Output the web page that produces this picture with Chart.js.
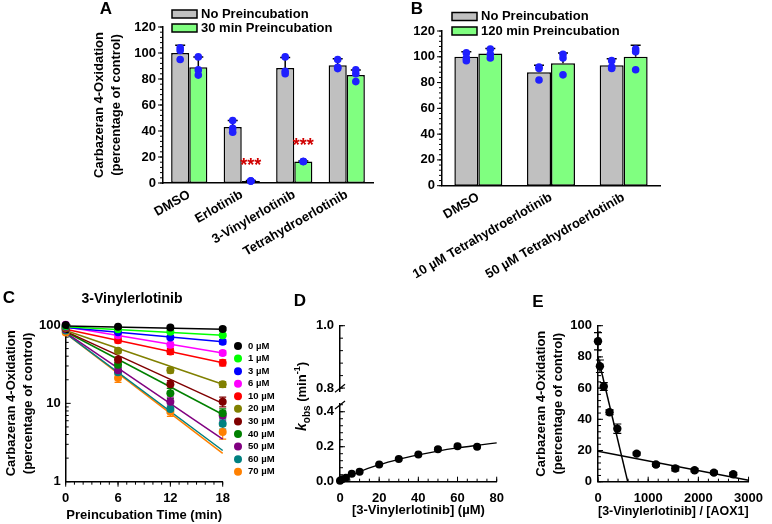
<!DOCTYPE html>
<html>
<head>
<meta charset="utf-8">
<script src="https://cdn.jsdelivr.net/npm/chart.js@4.4.0/dist/chart.umd.min.js"></script>
<style>
  body { margin: 0; background: #fff; }
  #wrap { position: relative; width: 772px; height: 524px; overflow: hidden; background: #fff; }
  canvas { position: absolute; }
</style>
</head>
<body>
<div id="wrap">
  <canvas id="cA" width="390" height="280" style="left:0;top:0"></canvas>
  <canvas id="cB" width="422" height="300" style="left:350px;top:0"></canvas>
  <canvas id="cC" width="290" height="244" style="left:0;top:280px"></canvas>
  <canvas id="cDlow" width="250" height="244" style="left:270px;top:280px"></canvas>
  <canvas id="cDtop" width="250" height="125" style="left:270px;top:280px"></canvas>
  <canvas id="cE" width="262" height="244" style="left:510px;top:280px"></canvas>
</div>
<script>
// ---- panel A data
var catsA = ["DMSO", "Erlotinib", "3-Vinylerlotinib", "Tetrahydroerlotinib"];
var noPreA = [100, 43, 88.5, 90.5];
var preA = [89, 1.5, 16.5, 83];
var noPreErrA = [6, 5, 8, 5];
var preErrA = [8, 0.5, 0.5, 4];
var noPreDotsA = [[104, 102, 95], [48, 42, 39], [97, 86, 84], [95, 89, 88]];
var preDotsA = [[97, 87, 83], [1.5, 1.5, 1.5], [16.5, 16.5, 16.5], [87, 84, 78]];
var starsA = [null, 17, 32, null];
var yTicksAB = [0, 20, 40, 60, 80, 100, 120];

// ---- panel B data
var catsB = ["DMSO", "10 µM Tetrahydroerlotinib", "50 µM Tetrahydroerlotinib"];
var noPreB = [100, 88, 93.5];
var preB = [102.5, 95, 100];
var noPreErrB = [4, 5.5, 5];
var preErrB = [4, 8, 9];
var noPreDotsB = [[103, 99, 97], [92, 91, 82], [97, 92, 91]];
var preDotsB = [[106, 102, 99], [102, 99, 86], [106, 104, 90]];

// ---- panel C data (percent remaining vs preincubation time)
var timesC = [0, 6, 12, 18];
var concC = ["0 µM", "1 µM", "3 µM", "6 µM", "10 µM", "20 µM", "30 µM", "40 µM", "50 µM", "60 µM", "70 µM"];
var remainC = [
  [100, 95, 93, 89],
  [97, 88, 82, 74],
  [96, 81, 69.5, 61],
  [101, 74, 56, 44],
  [95, 64, 46, 33],
  [92, 47, 26.5, 17.5],
  [90, 36, 17.5, 10.5],
  [92, 31, 13.5, 7.5],
  [88, 26.5, 10.5, 7],
  [85, 25, 8.5, 5.5],
  [80, 21, 7.8, 4.3]
];
var errC = [
  [0, 2, 4, 4], [0, 2, 3, 3], [0, 2, 4, 4], [0, 3, 4, 3], [0, 5, 4, 3],
  [0, 3, 2, 1.5], [0, 3, 2, 1.5], [0, 2, 2, 1], [0, 2, 1.5, 1], [0, 2, 1, 0.8], [0, 2.5, 1, 0.8]
];
var fitStartC = [97, 95, 93, 95, 88, 85, 83, 82, 80, 78, 78];
var fitEndC = [88, 74, 61, 44, 33, 17.5, 10, 7.2, 3.5, 2.5, 2.3];
var xTicksC = [0, 6, 12, 18];
var yTicksC = [1, 10, 100];

// ---- panel D data
var concD = [0, 1, 3, 6, 10, 20, 30, 40, 50, 60, 70];
var kobsD = [0.005, 0.014, 0.023, 0.045, 0.057, 0.098, 0.13, 0.155, 0.185, 0.203, 0.2];
var kobsErrD = [0.003, 0.003, 0.004, 0.004, 0.004, 0.005, 0.006, 0.006, 0.008, 0.008, 0.006];
var fitXD = [0, 5, 10, 20, 30, 40, 50, 60, 70, 80];
var fitYD = [0.0, 0.031, 0.057, 0.097, 0.128, 0.153, 0.175, 0.193, 0.208, 0.222];
var xTicksD = [0, 20, 40, 60, 80];
var yTicksDlow = [0, 0.2, 0.4];
var yTicksDtop = [0.8, 1.0];

// ---- panel E data
var ratioE = [0, 38, 115, 230, 385, 770, 1155, 1540, 1925, 2310, 2695];
var remainE = [90, 74, 61, 44.5, 34, 18, 11, 8.5, 7.3, 5.8, 4.8];
var remainErrE = [5.5, 4, 2.5, 1.5, 3, 1, 1, 1.5, 1, 1, 1];
var steepX = [0, 592], steepY = [80, 0];
var flatX = [0, 3000], flatY = [19.5, 1];
var xTicksE = [0, 1000, 2000, 3000];
var yTicksE = [0, 20, 40, 60, 80, 100];

var FONT = '"Liberation Sans", Arial, Helvetica, sans-serif';
var GRAY = '#c0c0c0', GREEN = '#80ff80', DOT = '#1f1fff';
var colorsC = ['#000000', '#00ff00', '#0000ff', '#ff00ff', '#ff0000', '#808000', '#800000', '#008000', '#800080', '#008080', '#ff8000'];
Chart.defaults.font.family = FONT;
Chart.defaults.color = '#000';

function fnt(size, lh) { return {family: FONT, size: size, weight: 'bold', lineHeight: lh || 1.2}; }
function fixed(vals) { return function (s) { s.ticks = vals.map(function (v) { return {value: v}; }); }; }

function axisTicks(chart, id, minor, dir) {
  var s = chart.scales[id], ctx = chart.ctx, a = chart.chartArea;
  var marks = s.ticks.map(function (t) { return [t.value, 5]; });
  if (minor === 'log') {
    for (var d = s.min; d < s.max; d *= 10) for (var k = 2; k < 10; k++) marks.push([k * d, 3]);
  } else if (minor) {
    for (var v = Math.ceil(s.min / minor - 1e-9) * minor; v <= s.max + 1e-9; v += minor) marks.push([v, 3]);
  }
  var sg = dir === 'out' ? 1 : -1;
  ctx.save();
  ctx.strokeStyle = '#000';
  ctx.lineWidth = 1;
  marks.forEach(function (m) {
    var p = s.getPixelForValue(m[0]);
    ctx.beginPath();
    if (s.isHorizontal()) { ctx.moveTo(p, a.bottom); ctx.lineTo(p, a.bottom + sg * m[1]); }
    else { ctx.moveTo(a.left, p); ctx.lineTo(a.left - sg * m[1], p); }
    ctx.stroke();
  });
  ctx.restore();
}

function errLine(ctx, x, y1, y2, w, bothCaps) {
  ctx.beginPath();
  ctx.moveTo(x, y1); ctx.lineTo(x, y2);
  ctx.moveTo(x - w, y2); ctx.lineTo(x + w, y2);
  if (bothCaps) { ctx.moveTo(x - w, y1); ctx.lineTo(x + w, y1); }
  ctx.stroke();
}

function label(ctx, txt, x, y, size, align, color) {
  ctx.save();
  ctx.font = 'bold ' + size + 'px ' + FONT;
  ctx.fillStyle = color || '#000';
  ctx.textAlign = align || 'center';
  ctx.textBaseline = 'middle';
  ctx.fillText(txt, x, y);
  ctx.restore();
}

function barLegend(ctx, x, items) {
  items.forEach(function (it) {
    ctx.save();
    ctx.fillStyle = it.color;
    ctx.strokeStyle = '#000';
    ctx.lineWidth = 1.5;
    ctx.fillRect(x, it.y - 4, 25, 8);
    ctx.strokeRect(x, it.y - 4, 25, 8);
    ctx.restore();
    label(ctx, it.text, x + 29, it.y, 13, 'left');
  });
}

// bar panel decorations: error bars, individual dots, legend, stars
function barDecor(errs, dots, opts) {
  return {
    id: 'barDecor',
    afterDatasetsDraw: function (chart) {
      var ctx = chart.ctx, y = chart.scales.y;
      ctx.save();
      ctx.strokeStyle = '#000';
      ctx.lineWidth = 1.5;
      chart.data.datasets.forEach(function (ds, di) {
        var meta = chart.getDatasetMeta(di);
        meta.data.forEach(function (bar, i) {
          errLine(ctx, bar.x, y.getPixelForValue(ds.data[i]), y.getPixelForValue(ds.data[i] + errs[di][i]), 5);
        });
      });
      ctx.fillStyle = DOT;
      chart.data.datasets.forEach(function (ds, di) {
        var meta = chart.getDatasetMeta(di);
        meta.data.forEach(function (bar, i) {
          dots[di][i].forEach(function (v) {
            ctx.beginPath();
            ctx.arc(bar.x, y.getPixelForValue(v), 3.8, 0, Math.PI * 2);
            ctx.fill();
          });
        });
      });
      ctx.restore();
      if (opts.stars) {
        var meta1 = chart.getDatasetMeta(1);
        opts.stars.forEach(function (v, i) {
          if (v === null) return;
          ctx.save();
          ctx.font = 'bold 18px ' + FONT;
          ctx.fillStyle = '#d00000';
          ctx.textAlign = 'center';
          ctx.textBaseline = 'alphabetic';
          ctx.fillText('***', meta1.data[i].x, y.getPixelForValue(v) + 10);
          ctx.restore();
        });
      }
    },
    afterDraw: function (chart) {
      var ctx = chart.ctx, a = chart.chartArea;
      axisTicks(chart, 'y', 4, 'out');
      barLegend(ctx, a.left + opts.legX, [
        {color: GRAY, text: chart.data.datasets[0].label, y: opts.legY[0]},
        {color: GREEN, text: chart.data.datasets[1].label, y: opts.legY[1]}
      ]);
      label(ctx, opts.letter[0], opts.letter[1], opts.letter[2], 17);
    }
  };
}

function barOpts(pad, yWidth, xHeight, yTitle) {
  var y = {
    min: 0, max: 120,
    grid: {display: false, drawTicks: false},
    border: {color: '#000', width: 1.5},
    ticks: {color: '#000', font: fnt(13), padding: 7},
    afterBuildTicks: fixed(yTicksAB),
    afterFit: function (s) { s.width = yWidth; }
  };
  if (yTitle) y.title = {display: true, text: yTitle, color: '#000', font: fnt(13, 1.3), padding: 0};
  return {
    responsive: false, animation: false, events: [],
    layout: {padding: pad},
    plugins: {legend: {display: false}, tooltip: {enabled: false}},
    scales: {
      x: {
        grid: {display: false, drawTicks: false},
        border: {color: '#000', width: 1.5},
        ticks: {color: '#000', font: fnt(13), minRotation: 30, maxRotation: 30, autoSkip: false, padding: 4},
        afterFit: function (s) { s.height = xHeight; }
      },
      y: y
    }
  };
}

function barSet(lbl, data, color, cp) {
  return {label: lbl, data: data, backgroundColor: color, borderColor: '#000', borderWidth: 1.5,
    borderSkipped: false, categoryPercentage: cp, barPercentage: 1};
}

// ---- A
new Chart(document.getElementById('cA'), {
  type: 'bar',
  data: {labels: catsA, datasets: [
    barSet('No Preincubation', noPreA, GRAY, 0.69),
    barSet('30 min Preincubation', preA, GREEN, 0.69)
  ]},
  options: barOpts({left: 91, right: 17, top: 27, bottom: 17}, 72, 80, ['Carbazeran 4-Oxidation', '(percentage of control)']),
  plugins: [barDecor([noPreErrA, preErrA], [noPreDotsA, preDotsA],
    {stars: starsA, legX: 9, legY: [14, 28], letter: ['A', 106, 9]})]
});

// ---- B
new Chart(document.getElementById('cB'), {
  type: 'bar',
  data: {labels: catsB, datasets: [
    barSet('No Preincubation', noPreB, GRAY, 0.66),
    barSet('120 min Preincubation', preB, GREEN, 0.66)
  ]},
  options: barOpts({left: 35, right: 112, top: 31, bottom: 2.3}, 57, 112, null),
  plugins: [barDecor([noPreErrB, preErrB], [noPreDotsB, preDotsB],
    {stars: null, legX: 10, legY: [16.5, 31], letter: ['B', 67, 9]})]
});

function linOpts(pad, yWidth, xHeight) {
  return {
    responsive: false, animation: false, events: [],
    layout: {padding: pad},
    plugins: {legend: {display: false}, tooltip: {enabled: false}},
    scales: {
      x: {type: 'linear', grid: {display: false, drawTicks: false},
        border: {color: '#000', width: 1.5},
        ticks: {color: '#000', font: fnt(13), padding: 9},
        afterFit: function (s) { s.height = xHeight; }},
      y: {type: 'linear', grid: {display: false, drawTicks: false},
        border: {color: '#000', width: 1.5},
        ticks: {color: '#000', font: fnt(13), padding: 6},
        afterFit: function (s) { s.width = yWidth; }}
    }
  };
}

// scatter error bars drawn under the points
function scatterErr(dsIndex, errs, w) {
  return function (chart) {
    var ctx = chart.ctx, y = chart.scales.y;
    var meta = chart.getDatasetMeta(dsIndex);
    var ds = chart.data.datasets[dsIndex];
    ctx.save();
    ctx.strokeStyle = ds.borderColor || '#000';
    ctx.lineWidth = 1.2;
    meta.data.forEach(function (pt, i) {
      var e = errs[i];
      if (!e) return;
      var v = ds.data[i].y;
      errLine(ctx, pt.x, y.getPixelForValue(v - e), y.getPixelForValue(v + e), w, true);
    });
    ctx.restore();
  };
}

// ---- C
var dsC = [];
concC.forEach(function (c, i) {
  dsC.push({label: c, data: timesC.map(function (t, j) { return {x: t, y: remainC[i][j]}; }),
    backgroundColor: colorsC[i], borderColor: colorsC[i], pointRadius: 4, pointBorderWidth: 0,
    showLine: false, clip: false});
});
concC.forEach(function (c, i) {
  dsC.push({label: c + ' fit', data: [{x: timesC[0], y: fitStartC[i]}, {x: timesC[3], y: fitEndC[i]}],
    borderColor: colorsC[i], borderWidth: 1.5, pointRadius: 0, showLine: true, clip: false});
});
var optC = linOpts({left: 3, right: 67.3, top: 45, bottom: 1.2}, 62.7, 41.1);
optC.scales.x.min = 0; optC.scales.x.max = 18;
optC.scales.x.afterBuildTicks = fixed(xTicksC);
optC.scales.x.title = {display: true, text: 'Preincubation Time (min)', color: '#000', font: fnt(13), padding: 0};
optC.scales.y.type = 'logarithmic';
optC.scales.y.min = 1; optC.scales.y.max = 100;
optC.scales.y.afterBuildTicks = fixed(yTicksC);
optC.scales.y.ticks.callback = function (v) { return String(v); };
optC.scales.y.ticks.padding = 5;
optC.scales.y.title = {display: true, text: ['Carbazeran 4-Oxidation', '(percentage of control)'], color: '#000', font: fnt(13, 1.3), padding: 0};
new Chart(document.getElementById('cC'), {
  type: 'scatter',
  data: {datasets: dsC},
  options: optC,
  plugins: [{
    id: 'decC',
    beforeDatasetsDraw: function (chart) {
      concC.forEach(function (c, i) { scatterErr(i, errC[i], 3.5)(chart); });
    },
    afterDraw: function (chart) {
      var ctx = chart.ctx;
      axisTicks(chart, 'y', 'log', 'in');
      axisTicks(chart, 'x', 1, 'out');
      concC.forEach(function (c, i) {
        var yy = 66 + i * 12.57;
        ctx.save();
        ctx.fillStyle = colorsC[i];
        ctx.beginPath(); ctx.arc(238, yy, 4, 0, Math.PI * 2); ctx.fill();
        ctx.restore();
        label(ctx, c, 248, yy, 9.5, 'left');
      });
      label(ctx, 'C', 9, 18, 17);
      label(ctx, '3-Vinylerlotinib', 132, 19, 14);
    }
  }]
});

// ---- D lower part (0 - 0.4)
var optD = linOpts({left: 0, right: 23.3, top: 123, bottom: 6.2}, 70, 36.1);
optD.scales.x.min = 0; optD.scales.x.max = 80;
optD.scales.x.afterBuildTicks = fixed(xTicksD);
optD.scales.x.title = {display: true, text: '[3-Vinylerlotinib] (µM)', color: '#000', font: fnt(13), padding: 0};
optD.scales.y.min = 0; optD.scales.y.max = 0.45;
optD.scales.y.afterBuildTicks = fixed(yTicksDlow);
optD.scales.y.ticks.callback = function (v) { return v.toFixed(1); };
new Chart(document.getElementById('cDlow'), {
  type: 'scatter',
  data: {datasets: [
    {label: 'kobs', data: concD.map(function (c, i) { return {x: c, y: kobsD[i]}; }),
      backgroundColor: '#000', borderColor: '#000', pointRadius: 4, pointBorderWidth: 0, clip: false},
    {label: 'fit', data: fitXD.map(function (c, i) { return {x: c, y: fitYD[i]}; }),
      borderColor: '#000', borderWidth: 1.3, pointRadius: 0, showLine: true, cubicInterpolationMode: 'monotone', clip: false}
  ]},
  options: optD,
  plugins: [{
    id: 'decD',
    beforeDatasetsDraw: scatterErr(0, kobsErrD, 3.5),
    afterDraw: function (chart) {
      var ctx = chart.ctx, a = chart.chartArea;
      axisTicks(chart, 'y', 0.04, 'in');
      axisTicks(chart, 'x', 5, 'in');
      ctx.save();
      ctx.fillStyle = '#fff';
      ctx.fillRect(a.left - 2, a.top - 4, 4, 4);
      ctx.strokeStyle = '#000'; ctx.lineWidth = 1.2;
      ctx.beginPath(); ctx.moveTo(a.left - 5, a.top + 6); ctx.lineTo(a.left + 5, a.top - 2); ctx.stroke();
      ctx.restore();
      // y title: k_obs (min^-1)
      ctx.save();
      ctx.translate(36, 116.5);
      ctx.rotate(-Math.PI / 2);
      ctx.fillStyle = '#000';
      var parts = [['k', 'italic bold 14px', 0], ['obs', 'bold 10px', 4], [' (min', 'bold 13px', 0], ['-1', 'bold 9px', -6], [')', 'bold 13px', 0]];
      var total = 0;
      parts.forEach(function (p) { ctx.font = p[1] + ' ' + FONT; p.w = ctx.measureText(p[0]).width; total += p.w; });
      var cx = -total / 2;
      parts.forEach(function (p) { ctx.font = p[1] + ' ' + FONT; ctx.fillText(p[0], cx, p[2]); cx += p.w; });
      ctx.restore();
      label(ctx, 'D', 30, 21, 17);
    }
  }]
});

// ---- D upper part (0.8 - 1.0)
var optDt = linOpts({left: 0, right: 23.3, top: 45.7, bottom: 6}, 70, 0);
optDt.scales.x.display = false;
optDt.scales.x.min = 0; optDt.scales.x.max = 80;
optDt.scales.y.min = 0.79; optDt.scales.y.max = 1.0;
optDt.scales.y.afterBuildTicks = fixed(yTicksDtop);
optDt.scales.y.ticks.callback = function (v) { return v.toFixed(1); };
new Chart(document.getElementById('cDtop'), {
  type: 'scatter',
  data: {datasets: []},
  options: optDt,
  plugins: [{
    id: 'decDt',
    afterDraw: function (chart) {
      var ctx = chart.ctx, a = chart.chartArea;
      axisTicks(chart, 'y', 0.04, 'in');
      ctx.save();
      ctx.strokeStyle = '#000'; ctx.lineWidth = 1.2;
      ctx.beginPath(); ctx.moveTo(a.left - 5, a.bottom + 1); ctx.lineTo(a.left + 5, a.bottom - 7); ctx.stroke();
      ctx.restore();
    }
  }]
});

// ---- E
var optE = linOpts({left: 23.2, right: 15.3, top: 45.7, bottom: 4.5}, 64.8, 37.8);
optE.scales.x.min = 0; optE.scales.x.max = 3000;
optE.scales.x.afterBuildTicks = fixed(xTicksE);
optE.scales.x.ticks.callback = function (v) { return String(v); };
optE.scales.x.title = {display: true, text: '[3-Vinylerlotinib] / [AOX1]', color: '#000', font: fnt(13), padding: 0};
optE.scales.y.min = 0; optE.scales.y.max = 100;
optE.scales.y.afterBuildTicks = fixed(yTicksE);
optE.scales.y.title = {display: true, text: ['Carbazeran 4-Oxidation', '(percentage of control)'], color: '#000', font: fnt(13, 1.3), padding: 0};
new Chart(document.getElementById('cE'), {
  type: 'scatter',
  data: {datasets: [
    {label: 'data', data: ratioE.map(function (r, i) { return {x: r, y: remainE[i]}; }),
      backgroundColor: '#000', borderColor: '#000', pointRadius: 4.2, pointBorderWidth: 0, clip: false},
    {label: 'steep', data: steepX.map(function (x, i) { return {x: x, y: steepY[i]}; }),
      borderColor: '#000', borderWidth: 1.5, pointRadius: 0, showLine: true},
    {label: 'flat', data: flatX.map(function (x, i) { return {x: x, y: flatY[i]}; }),
      borderColor: '#000', borderWidth: 1.5, pointRadius: 0, showLine: true}
  ]},
  options: optE,
  plugins: [{
    id: 'decE',
    beforeDatasetsDraw: scatterErr(0, remainErrE, 4),
    afterDraw: function (chart) {
      axisTicks(chart, 'y', 4, 'in');
      axisTicks(chart, 'x', 200, 'in');
      label(chart.ctx, 'E', 28, 22, 17);
    }
  }]
});
</script>
</body>
</html>
